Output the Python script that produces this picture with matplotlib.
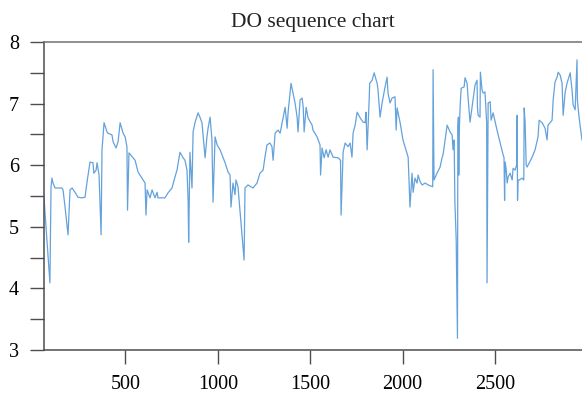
import matplotlib
matplotlib.use("Agg")
import matplotlib.pyplot as plt
from matplotlib.ticker import MultipleLocator

# DO readings (sample index, mg/L)
sample_idx = [
    59, 91, 97, 102, 108, 119, 156, 162, 173, 189, 200, 211, 227, 243, 265, 281,
    292, 308, 324, 329, 341, 346, 357, 368, 373, 384, 400, 405, 427, 433, 449,
    460, 471, 487, 498, 508, 511, 519, 552, 568, 606, 611, 617, 633, 644, 660,
    671, 676, 714, 730, 752, 768, 779, 795, 812, 822, 833, 839, 842, 849, 860,
    866, 877, 893, 903, 914, 931, 941, 947, 958, 968, 974, 985, 996, 1012, 1039,
    1055, 1066, 1071, 1082, 1093, 1098, 1109, 1142, 1147, 1163, 1190, 1212, 1228,
    1245, 1255, 1266, 1282, 1293, 1299, 1310, 1326, 1337, 1348, 1364, 1375, 1380,
    1396, 1407, 1418, 1429, 1434, 1445, 1456, 1462, 1467, 1478, 1488, 1510, 1515,
    1537, 1553, 1556, 1564, 1575, 1586, 1597, 1607, 1624, 1651, 1664, 1667, 1678,
    1689, 1705, 1716, 1726, 1732, 1743, 1754, 1770, 1786, 1797, 1802, 1808, 1819,
    1822, 1835, 1846, 1862, 1867, 1878, 1889, 1905, 1916, 1921, 1932, 1943, 1959,
    1965, 1970, 1986, 2002, 2030, 2040, 2051, 2057, 2067, 2078, 2084, 2095, 2106,
    2122, 2138, 2163, 2165, 2170, 2186, 2203, 2214, 2219, 2230, 2241, 2257, 2268,
    2273, 2279, 2283, 2290, 2297, 2299, 2302, 2304, 2306, 2311, 2317, 2333, 2338,
    2349, 2354, 2365, 2376, 2382, 2392, 2403, 2405, 2409, 2419, 2421, 2430, 2436,
    2446, 2455, 2457, 2463, 2474, 2479, 2490, 2511, 2528, 2544, 2549, 2552, 2555,
    2560, 2566, 2571, 2582, 2593, 2598, 2609, 2617, 2620, 2622, 2625, 2631, 2647,
    2656, 2658, 2663, 2669, 2674, 2701, 2717, 2733, 2739, 2755, 2771, 2782, 2787,
    2809, 2815, 2825, 2836, 2842, 2853, 2863, 2869, 2880, 2890, 2907, 2917, 2923,
    2934, 2944, 2946, 2955, 2971,
]
do_values = [
    5.47, 4.09, 5.65, 5.79, 5.71, 5.63, 5.63, 5.60, 5.32, 4.87, 5.60, 5.63, 5.56,
    5.48, 5.47, 5.48, 5.73, 6.05, 6.04, 5.87, 5.92, 6.04, 5.84, 4.87, 6.25, 6.69,
    6.54, 6.52, 6.49, 6.38, 6.28, 6.38, 6.69, 6.52, 6.46, 6.30, 5.27, 6.20, 6.08,
    5.89, 5.71, 5.19, 5.60, 5.47, 5.60, 5.47, 5.56, 5.47, 5.47, 5.55, 5.63, 5.81,
    5.92, 6.21, 6.12, 6.08, 5.92, 5.44, 4.75, 6.21, 5.63, 6.54, 6.70, 6.85, 6.78,
    6.69, 6.12, 6.46, 6.60, 6.78, 6.41, 5.40, 6.46, 6.33, 6.25, 6.04, 5.89, 5.84,
    5.32, 5.71, 5.52, 5.76, 5.65, 4.46, 5.63, 5.68, 5.63, 5.71, 5.87, 5.92, 6.13,
    6.33, 6.36, 6.30, 6.08, 6.52, 6.57, 6.52, 6.69, 6.94, 6.60, 6.85, 7.33, 7.17,
    7.01, 6.78, 6.54, 7.06, 7.09, 6.94, 6.54, 6.94, 6.77, 6.65, 6.57, 6.46, 6.33,
    5.84, 6.28, 6.12, 6.25, 6.13, 6.25, 6.13, 6.12, 6.08, 5.19, 6.21, 6.36, 6.30,
    6.36, 6.13, 6.52, 6.65, 6.86, 6.77, 6.70, 6.69, 6.86, 6.25, 7.06, 7.33, 7.38,
    7.50, 7.33, 7.22, 6.78, 7.01, 7.27, 7.43, 7.17, 7.01, 7.09, 7.11, 6.57, 6.93,
    6.70, 6.41, 6.13, 5.32, 5.87, 5.56, 5.79, 5.71, 5.84, 5.73, 5.68, 5.71, 5.68,
    5.65, 7.55, 5.76, 5.87, 5.97, 6.13, 6.17, 6.41, 6.65, 6.54, 6.49, 6.25, 6.41,
    5.40, 4.80, 3.19, 6.62, 6.78, 5.84, 6.49, 6.94, 7.25, 7.27, 7.42, 7.33, 7.11,
    6.70, 6.94, 7.06, 7.30, 7.38, 6.94, 6.81, 6.78, 7.51, 7.22, 7.17, 7.19, 6.69,
    4.09, 7.01, 7.03, 6.73, 6.85, 6.57, 6.36, 6.17, 6.12, 5.43, 6.05, 5.95, 5.71,
    5.81, 5.87, 5.76, 5.95, 5.92, 6.00, 6.81, 5.43, 5.76, 5.76, 5.79, 5.76, 6.93,
    6.70, 6.00, 5.97, 6.13, 6.25, 6.46, 6.73, 6.69, 6.60, 6.41, 6.65, 6.73, 7.06,
    7.35, 7.43, 7.51, 7.46, 7.33, 6.81, 7.19, 7.33, 7.50, 7.22, 6.98, 6.90, 7.71,
    7.06, 6.78, 6.41,
]
x_ticks = [500, 1000, 1500, 2000, 2500]

plt.rcParams['font.family'] = ['Liberation Serif', 'DejaVu Serif']

fig = plt.figure(figsize=(5.82, 3.94), dpi=100)
ax = fig.add_axes([44 / 582, 44 / 394, 538 / 582, 308 / 394])

ax.plot(sample_idx, do_values, color='#64a2dc', linewidth=0.9)

ax.set_xlim(59, 2971)
ax.set_ylim(3, 8)
ax.set_xticks(x_ticks)
ax.yaxis.set_major_locator(MultipleLocator(1))
ax.yaxis.set_minor_locator(MultipleLocator(0.5))

spine_col = '#4d4d4d'
for side in ['left', 'bottom', 'top']:
    ax.spines[side].set_color(spine_col)
    ax.spines[side].set_linewidth(1.1)
ax.spines['top'].set_color('#707070')
ax.spines['right'].set_visible(False)

ax.tick_params(axis='both', which='both', direction='out', length=10,
               width=1.0, color=spine_col, labelsize=14.5, pad=8)
ax.tick_params(axis='y', which='minor', labelleft=False)

ax.set_title('DO sequence chart', fontsize=15.5, color='#222222', pad=11)

fig.savefig('out.png', dpi=100)
